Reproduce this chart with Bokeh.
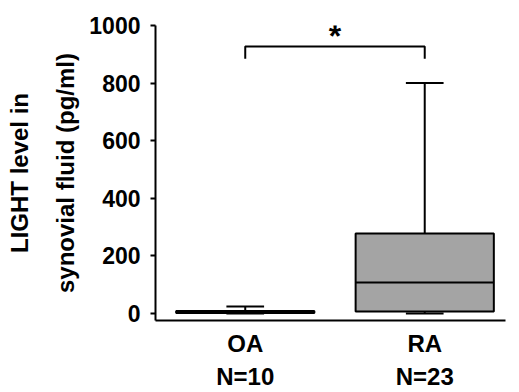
from bokeh.plotting import figure
from bokeh.models import Range1d, LinearAxis, FixedTicker, Label, ColumnDataSource
from bokeh.embed import file_html
from bokeh.resources import INLINE

# ---- data ----
group_x = [1, 2]
group_names = ["OA", "RA"]
group_n = ["N=10", "N=23"]
whisker_min = [0, 0]
q1 = [2, 7]
median = [5, 108]
q3 = [9, 278]
whisker_max = [25, 800]
y_ticks = [0, 200, 400, 600, 800, 1000]
sig_level = 927
sig_drop = 885
sig_star_y = 962
sig_text = "*"

# ---- style ----
FONT = "Liberation Sans"
BOX_W = 0.77
CAP_W = 0.21
GREY = "#a4a4a4"

src = ColumnDataSource(dict(
    x=group_x,
    left=[x - BOX_W / 2 for x in group_x],
    right=[x + BOX_W / 2 for x in group_x],
    cl=[x - CAP_W / 2 for x in group_x],
    cr=[x + CAP_W / 2 for x in group_x],
    wmin=whisker_min, q1=q1, med=median, q3=q3, wmax=whisker_max,
))

p = figure(width=519, height=392,
           x_range=Range1d(0.5, 2.45), y_range=Range1d(-24, 1000),
           output_backend="svg", toolbar_location=None,
           min_border_left=155, min_border_right=14,
           min_border_top=25, min_border_bottom=72)
p.xgrid.visible = False
p.ygrid.visible = False
p.outline_line_color = None
p.background_fill_color = "white"
p.border_fill_color = "white"

# whiskers
p.segment(x0="x", y0="q3", x1="x", y1="wmax", source=src, line_color="black", line_width=2)
p.segment(x0="cl", y0="wmax", x1="cr", y1="wmax", source=src, line_color="black", line_width=2)
p.segment(x0="x", y0="q1", x1="x", y1="wmin", source=src, line_color="black", line_width=2)
p.segment(x0="cl", y0="wmin", x1="cr", y1="wmin", source=src, line_color="black", line_width=2)
# boxes
p.quad(left="left", right="right", bottom="q1", top="q3", source=src,
       fill_color=GREY, line_color="black", line_width=2)
p.segment(x0="left", y0="med", x1="right", y1="med", source=src, line_color="black", line_width=2)

# significance bracket
p.line(x=[group_x[0], group_x[0], group_x[1], group_x[1]],
       y=[sig_drop, sig_level, sig_level, sig_drop], line_color="black", line_width=2)
p.add_layout(Label(x=(group_x[0] + group_x[1]) / 2, y=sig_star_y, text=sig_text,
                   text_align="center", text_baseline="alphabetic",
                   text_font=FONT, text_font_style="bold", text_font_size="32px",
                   text_color="black"))

# axes
def style_axis(ax, size="23px"):
    ax.major_label_text_font = FONT
    ax.major_label_text_font_style = "bold"
    ax.major_label_text_font_size = size
    ax.major_label_text_color = "black"
    ax.axis_label_text_font = FONT
    ax.axis_label_text_font_style = "bold"
    ax.axis_label_text_font_size = "24px"
    ax.axis_label_text_color = "black"
    ax.minor_tick_line_color = None

xa = p.xaxis[0]
xa.ticker = FixedTicker(ticks=group_x)
xa.major_label_overrides = {x: n for x, n in zip(group_x, group_names)}
xa.major_tick_line_color = None
xa.axis_line_width = 2
xa.major_label_standoff = 3
style_axis(xa, "24px")

xa2 = LinearAxis(ticker=FixedTicker(ticks=group_x),
                 major_label_overrides={x: n for x, n in zip(group_x, group_n)})
xa2.axis_line_color = None
xa2.major_tick_line_color = None
xa2.major_label_standoff = -3
style_axis(xa2, "24px")
p.add_layout(xa2, "below")

ya = p.yaxis[0]
ya.ticker = FixedTicker(ticks=y_ticks)
ya.axis_line_width = 2
ya.major_tick_out = 5
ya.major_tick_in = 0
ya.major_tick_line_width = 2
ya.major_label_standoff = 10
ya.axis_label = "synovial fluid (pg/ml)"
ya.axis_label_standoff = 7
style_axis(ya)

ya2 = LinearAxis(ticker=FixedTicker(ticks=[]), axis_label="LIGHT level in")
ya2.axis_line_color = None
ya2.major_tick_line_color = None
ya2.major_label_text_font_size = "0px"
ya2.axis_label_standoff = 17
style_axis(ya2, "0px")
p.add_layout(ya2, "left")

open("out.html", "w").write(file_html(p, INLINE))
